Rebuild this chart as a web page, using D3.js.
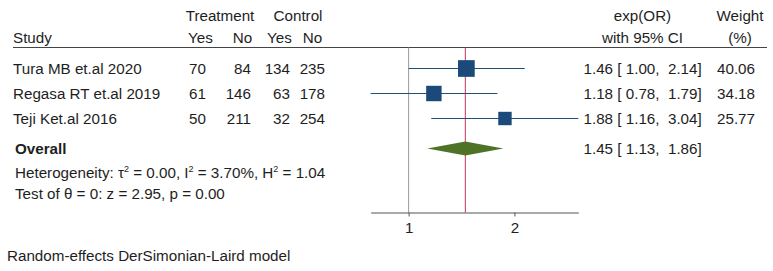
<!DOCTYPE html>
<html>
<head>
<meta charset="utf-8">
<script src="https://cdn.jsdelivr.net/npm/d3@7"></script>
<style>
  body { margin: 0; background: #fff; }
  svg text { font-family: "Liberation Sans", Arial, sans-serif; font-size: 15.2px; fill: #1e1e1e; }
  svg text.ci { white-space: pre; }
</style>
</head>
<body>
<div id="chart"></div>
<script>
// study data
const studies = ["Tura MB et.al 2020", "Regasa RT et.al 2019", "Teji Ket.al 2016"];
const treatYes = [70, 61, 50];
const treatNo = [84, 146, 211];
const ctrlYes = [134, 63, 32];
const ctrlNo = [235, 178, 254];
const oddsRatio = [1.46, 1.18, 1.88];
const ciLow = [1.00, 0.78, 1.16];
const ciHigh = [2.14, 1.79, 3.04];
const weights = [40.06, 34.18, 25.77];
const overallOR = [1.45, 1.13, 1.86]; // estimate, low, high
const xTicks = [1, 2];

const width = 773, height = 271;

const svg = d3.select("#chart")
    .append("svg")
    .attr("width", width)
    .attr("height", height);

// scales
const x = d3.scaleLog()
    .domain([d3.min(ciLow), d3.max(ciHigh)])
    .range([370.7, 578.3]);

const rowY = d3.scaleLinear().domain([0, 1]).range([68.5, 93.5]);
const overallY = 148.5;
const boxSize = d3.scaleSqrt().domain([0, d3.max(weights)]).range([0, 16.7]);

const fmt = d3.format(".2f");

// header
const head = svg.append("g");
head.append("text").attr("x", 220).attr("y", 20.5).attr("text-anchor", "middle").text("Treatment");
head.append("text").attr("x", 298).attr("y", 20.5).attr("text-anchor", "middle").text("Control");
head.append("text").attr("x", 13).attr("y", 42.5).text("Study");
[["Yes", 200.5], ["No", 242.5], ["Yes", 279.5], ["No", 312.5]].forEach(([t, cx]) => {
    head.append("text").attr("x", cx).attr("y", 42.5).attr("text-anchor", "middle").text(t);
});
head.append("text").attr("x", 642.5).attr("y", 20.5).attr("text-anchor", "middle").text("exp(OR)");
head.append("text").attr("x", 642.5).attr("y", 42.5).attr("text-anchor", "middle").text("with 95% CI");
head.append("text").attr("x", 740).attr("y", 20.5).attr("text-anchor", "middle").text("Weight");
head.append("text").attr("x", 740).attr("y", 42.5).attr("text-anchor", "middle").text("(%)");

svg.append("line")
    .attr("x1", 13).attr("x2", 767)
    .attr("y1", 47.5).attr("y2", 47.5)
    .attr("stroke", "#444").attr("stroke-width", 1.2);

const axisY = 212.5;

// reference lines: no effect (gray) and overall (red)
svg.append("line")
    .attr("x1", x(1)).attr("x2", x(1))
    .attr("y1", 47.5).attr("y2", axisY)
    .attr("stroke", "#999").attr("stroke-width", 1);

svg.append("line")
    .attr("x1", x(overallOR[0])).attr("x2", x(overallOR[0]))
    .attr("y1", 47.5).attr("y2", axisY)
    .attr("stroke", "#c8325a").attr("stroke-width", 1);

// study rows
const rows = svg.selectAll(".row")
    .data(studies)
    .enter().append("g")
    .attr("class", "row");

rows.append("text").attr("x", 13).attr("y", (d, i) => rowY(i) + 5).text(d => d);
rows.append("text").attr("x", 206).attr("y", (d, i) => rowY(i) + 5).attr("text-anchor", "end").text((d, i) => treatYes[i]);
rows.append("text").attr("x", 251).attr("y", (d, i) => rowY(i) + 5).attr("text-anchor", "end").text((d, i) => treatNo[i]);
rows.append("text").attr("x", 290).attr("y", (d, i) => rowY(i) + 5).attr("text-anchor", "end").text((d, i) => ctrlYes[i]);
rows.append("text").attr("x", 325).attr("y", (d, i) => rowY(i) + 5).attr("text-anchor", "end").text((d, i) => ctrlNo[i]);

rows.append("line")
    .attr("x1", (d, i) => x(ciLow[i]))
    .attr("x2", (d, i) => x(ciHigh[i]))
    .attr("y1", (d, i) => rowY(i))
    .attr("y2", (d, i) => rowY(i))
    .attr("stroke", "#1f4e79").attr("stroke-width", 1.2);

rows.append("rect")
    .attr("x", (d, i) => x(oddsRatio[i]) - boxSize(weights[i]) / 2)
    .attr("y", (d, i) => rowY(i) - boxSize(weights[i]) / 2)
    .attr("width", (d, i) => boxSize(weights[i]))
    .attr("height", (d, i) => boxSize(weights[i]))
    .attr("fill", "#1b4a7a");

rows.append("text").attr("class", "ci").attr("x", 583.5).attr("y", (d, i) => rowY(i) + 5)
    .text((d, i) => `${fmt(oddsRatio[i])} [ ${fmt(ciLow[i])},  ${fmt(ciHigh[i])}]`);
rows.append("text").attr("x", 755).attr("y", (d, i) => rowY(i) + 5).attr("text-anchor", "end")
    .text((d, i) => fmt(weights[i]));

// overall
svg.append("text").attr("x", 15).attr("y", overallY + 5).style("font-weight", "bold").text("Overall");
svg.append("path")
    .attr("d", `M${x(overallOR[1])},${overallY} L${x(overallOR[0])},${overallY - 7} L${x(overallOR[2])},${overallY} L${x(overallOR[0])},${overallY + 7} Z`)
    .attr("fill", "#4f7326");
svg.append("text").attr("class", "ci").attr("x", 583.5).attr("y", overallY + 5)
    .text(`${fmt(overallOR[0])} [ ${fmt(overallOR[1])},  ${fmt(overallOR[2])}]`);

// heterogeneity + test
const het = svg.append("text").attr("x", 15).attr("y", 177.5);
het.append("tspan").text("Heterogeneity: \u03c4");
het.append("tspan").attr("dy", -6).style("font-size", "9px").text("2");
het.append("tspan").attr("dy", 6).text(" = 0.00, I");
het.append("tspan").attr("dy", -6).style("font-size", "9px").text("2");
het.append("tspan").attr("dy", 6).text(" = 3.70%, H");
het.append("tspan").attr("dy", -6).style("font-size", "9px").text("2");
het.append("tspan").attr("dy", 6).text(" = 1.04");

svg.append("text").attr("x", 15).attr("y", 199).text("Test of \u03b8 = 0: z = 2.95, p = 0.00");

// x axis
const axis = svg.append("g")
    .attr("transform", `translate(0,${axisY})`)
    .call(d3.axisBottom(x).tickValues(xTicks).tickFormat(d3.format("d"))
        .tickSize(4).tickSizeOuter(0).tickPadding(6));
axis.select(".domain").attr("stroke", "#555").attr("stroke-width", 1.2);
axis.selectAll(".tick line").attr("stroke", "#555");
axis.selectAll(".tick text").style("font-size", "15.2px").attr("fill", "#1e1e1e")
    .style("font-family", "'Liberation Sans', Arial, sans-serif");

// footer
svg.append("text").attr("x", 7).attr("y", 261).text("Random-effects DerSimonian-Laird model");
</script>
</body>
</html>
